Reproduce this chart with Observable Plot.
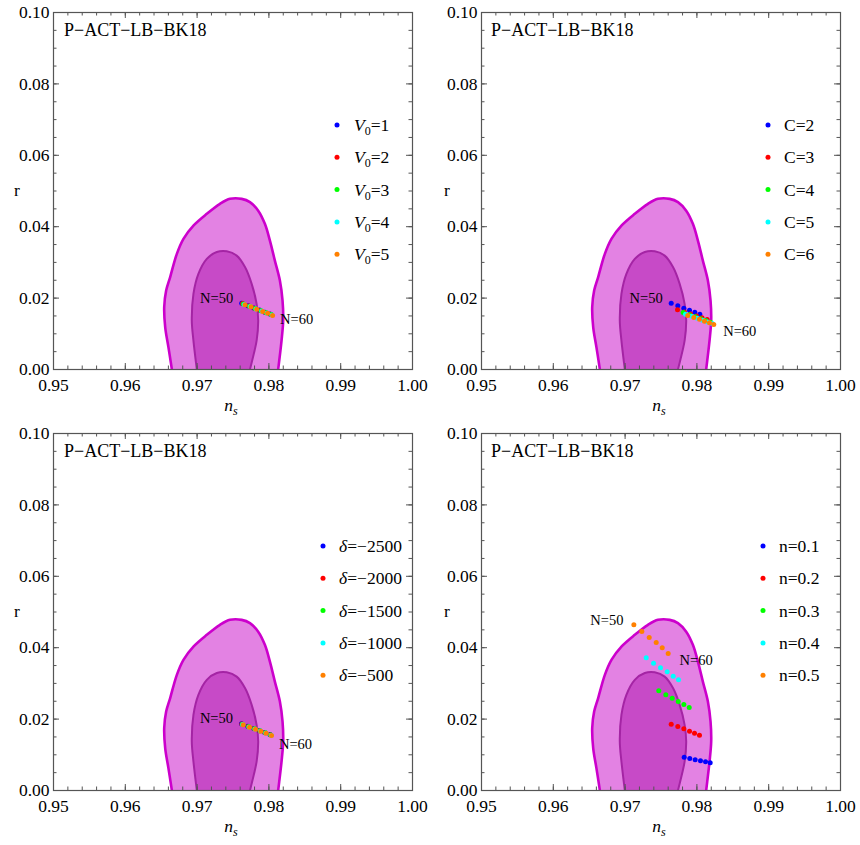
<!DOCTYPE html>
<html>
<head>
<meta charset="utf-8">
<script src="https://cdn.jsdelivr.net/npm/d3@7"></script>
<script src="https://cdn.jsdelivr.net/npm/@observablehq/plot@0.6"></script>
<style>
  body { margin: 0; background: #fff; }
  #grid { position: relative; width: 860px; height: 845px; }
  #grid svg { position: absolute; }
  #grid svg text { font-family: 'Liberation Serif', 'Times New Roman', serif !important; }
</style>
</head>
<body>
<div id="grid"></div>
<script>
// ---- axes ----
const xMajor = [0.95, 0.96, 0.97, 0.98, 0.99, 1.00];
const yMajor = [0.00, 0.02, 0.04, 0.06, 0.08, 0.10];
const xMinor = d3.range(0.952, 1.0, 0.002);
const yMinor = d3.range(0.005, 0.1, 0.005);

// ---- P-ACT-LB-BK18 confidence regions (68% inner, 95% outer) ----
const outerNs = [0.96672, 0.96649, 0.96601, 0.96556, 0.96542, 0.96569, 0.96625, 0.96718, 0.96810, 0.96949,
                 0.97135, 0.97319, 0.97458, 0.97621, 0.97736, 0.97851, 0.97944, 0.98014, 0.98083, 0.98153,
                 0.98190, 0.98199, 0.98176, 0.98129, 0.98112];
const outerR  = [-0.003, 0.0000, 0.0062, 0.0118, 0.0175, 0.0221, 0.0259, 0.0324, 0.0366, 0.0403,
                 0.0436, 0.0464, 0.0478, 0.0478, 0.0469, 0.0445, 0.0408, 0.0361, 0.0305, 0.0249,
                 0.0193, 0.0137, 0.0081, 0.0000, -0.003];
const innerNs = [0.97014, 0.96996, 0.96949, 0.96926, 0.96949, 0.97018, 0.97135, 0.97274, 0.97413, 0.97551,
                 0.97667, 0.97760, 0.97829, 0.97851, 0.97829, 0.97736, 0.97702];
const innerR  = [-0.003, 0.0000, 0.0081, 0.0137, 0.0212, 0.0268, 0.0310, 0.0329, 0.0331, 0.0319,
                 0.0287, 0.0240, 0.0184, 0.0137, 0.0081, 0.0000, -0.003];

// ---- e-folding numbers and series colours ----
const efolds = [50, 52, 54, 56, 58, 60];
const seriesColors = ["#0000ff", "#ff0000", "#00ff00", "#00ffff", "#ff8000"];

// ---- panel 1: V0 ----
const v0Values = [1, 2, 3, 4, 5];
const v0Ns = [
  [0.97621, 0.97708, 0.97790, 0.97870, 0.97944, 0.98015],
  [0.97633, 0.97719, 0.97800, 0.97880, 0.97953, 0.98024],
  [0.97644, 0.97730, 0.97810, 0.97890, 0.97962, 0.98033],
  [0.97656, 0.97740, 0.97820, 0.97901, 0.97972, 0.98042],
  [0.97667, 0.97750, 0.97829, 0.97913, 0.97982, 0.98051]
];
const v0R = [
  [0.01857, 0.01788, 0.01722, 0.01664, 0.01607, 0.01553],
  [0.01846, 0.01780, 0.01714, 0.01656, 0.01600, 0.01546],
  [0.01835, 0.01771, 0.01706, 0.01647, 0.01592, 0.01538],
  [0.01823, 0.01763, 0.01697, 0.01636, 0.01584, 0.01526],
  [0.01812, 0.01756, 0.01689, 0.01625, 0.01577, 0.01513]
];

// ---- panel 2: C ----
const cValues = [2, 3, 4, 5, 6];
const cNs = [
  [0.97642, 0.97734, 0.97818, 0.97897, 0.97971, 0.98041],
  [0.97730, 0.97825, 0.97912, 0.97995, 0.98071, 0.98143],
  [0.97809, 0.97896, 0.97976, 0.98053, 0.98123, 0.98189],
  [0.97841, 0.97926, 0.98005, 0.98080, 0.98149, 0.98213],
  [0.97873, 0.97957, 0.98036, 0.98106, 0.98175, 0.98235]
];
const cR = [
  [0.01857, 0.01784, 0.01717, 0.01661, 0.01605, 0.01549],
  [0.01673, 0.01612, 0.01556, 0.01500, 0.01449, 0.01400],
  [0.01597, 0.01534, 0.01478, 0.01423, 0.01372, 0.01325],
  [0.01549, 0.01489, 0.01434, 0.01382, 0.01334, 0.01289],
  [0.01513, 0.01457, 0.01409, 0.01353, 0.01308, 0.01261]
];

// ---- panel 3: delta ----
const deltaValues = [-2500, -2000, -1500, -1000, -500];
const deltaNs = [
  [0.97618, 0.97706, 0.97790, 0.97866, 0.97941, 0.98014],
  [0.97624, 0.97712, 0.97796, 0.97871, 0.97946, 0.98020],
  [0.97630, 0.97718, 0.97801, 0.97876, 0.97951, 0.98025],
  [0.97636, 0.97724, 0.97807, 0.97882, 0.97957, 0.98031],
  [0.97642, 0.97730, 0.97813, 0.97887, 0.97962, 0.98036]
];
const deltaR = [
  [0.01868, 0.01800, 0.01740, 0.01682, 0.01625, 0.01566],
  [0.01861, 0.01794, 0.01734, 0.01677, 0.01620, 0.01560],
  [0.01854, 0.01787, 0.01729, 0.01672, 0.01615, 0.01554],
  [0.01847, 0.01781, 0.01723, 0.01666, 0.01610, 0.01548],
  [0.01840, 0.01774, 0.01718, 0.01661, 0.01605, 0.01541]
];

// ---- panel 4: n ----
const nValues = [0.1, 0.2, 0.3, 0.4, 0.5];
const nNs = [
  [0.97823, 0.97901, 0.97976, 0.98050, 0.98120, 0.98185],
  [0.97642, 0.97734, 0.97818, 0.97897, 0.97967, 0.98036],
  [0.97469, 0.97567, 0.97656, 0.97740, 0.97818, 0.97893],
  [0.97294, 0.97396, 0.97493, 0.97586, 0.97670, 0.97744],
  [0.97122, 0.97233, 0.97336, 0.97433, 0.97517, 0.97600]
];
const nR = [
  [0.00933, 0.00896, 0.00860, 0.00832, 0.00804, 0.00776],
  [0.01857, 0.01793, 0.01728, 0.01661, 0.01605, 0.01549],
  [0.02793, 0.02681, 0.02586, 0.02493, 0.02409, 0.02325],
  [0.03717, 0.03566, 0.03437, 0.03325, 0.03202, 0.03101],
  [0.04641, 0.04454, 0.04286, 0.04146, 0.03997, 0.03838]
];

const FONT = "'Liberation Serif', 'Times New Roman', serif";
const W = 430, H = 422;
const M = {top: 12, right: 18, bottom: 53, left: 53};
const frameW = W - M.left - M.right, frameH = H - M.top - M.bottom;
const tickColor = "#555";

function makePanel(cfg) {
  const rows = [];
  cfg.ns.forEach((s, k) => s.forEach((x, i) => rows.push({k, ns: x, r: cfg.r[k][i], N: efolds[i]})));
  const outer = outerNs.map((x, i) => ({ns: x, r: outerR[i]}));
  const inner = innerNs.map((x, i) => ({ns: x, r: innerR[i]}));
  const first = rows.find(d => d.k === cfg.at50 && d.N === 50);
  const last = rows.find(d => d.k === cfg.at60 && d.N === 60);

  const svg = Plot.plot({
    width: W, height: H,
    marginTop: M.top, marginRight: M.right, marginBottom: M.bottom, marginLeft: M.left,
    style: {fontFamily: FONT, fontSize: "17.5px", color: "#000", background: "#fff", overflow: "visible"},
    x: {domain: [0.95, 1.0], ticks: xMajor, tickFormat: d3.format(".2f"), tickSize: 0, tickPadding: 9, label: null},
    y: {domain: [0, 0.1], ticks: yMajor, tickFormat: d3.format(".2f"), tickSize: 0, tickPadding: 4, label: null},
    marks: [
      Plot.line(outer, {x: "ns", y: "r", fill: "#e382e3", stroke: "#cc00cc", strokeWidth: 2.6, curve: "catmull-rom", clip: true}),
      Plot.line(inner, {x: "ns", y: "r", fill: "#c74ac7", stroke: "#a424a4", strokeWidth: 2, curve: "catmull-rom", clip: true}),
      // inward frame ticks on all four sides
      Plot.ruleX(xMajor, {x: d => d, insetTop: frameH - 6, stroke: tickColor}),
      Plot.ruleX(xMajor, {x: d => d, insetBottom: frameH - 6, stroke: tickColor}),
      Plot.ruleX(xMinor, {x: d => d, insetTop: frameH - 3.5, stroke: tickColor}),
      Plot.ruleX(xMinor, {x: d => d, insetBottom: frameH - 3.5, stroke: tickColor}),
      Plot.ruleY(yMajor, {y: d => d, insetRight: frameW - 6, stroke: tickColor}),
      Plot.ruleY(yMajor, {y: d => d, insetLeft: frameW - 6, stroke: tickColor}),
      Plot.ruleY(yMinor, {y: d => d, insetRight: frameW - 3.5, stroke: tickColor}),
      Plot.ruleY(yMinor, {y: d => d, insetLeft: frameW - 3.5, stroke: tickColor}),
      Plot.frame({stroke: tickColor, strokeWidth: 1.2}),
      Plot.dot(rows, {x: "ns", y: "r", r: 2.5, fill: d => seriesColors[d.k], stroke: "none"}),
      Plot.text([first], {x: "ns", y: "r", text: () => "N=50", dx: cfg.dx50, dy: cfg.dy50, fontSize: 14.5, fill: "#000"}),
      Plot.text([last], {x: "ns", y: "r", text: () => "N=60", dx: cfg.dx60, dy: cfg.dy60, fontSize: 14.5, fill: "#000"})
    ]
  });

  const root = d3.select(svg);
  const g = root.append("g").attr("font-family", FONT).attr("fill", "#000").attr("text-anchor", "start");

  // panel title
  g.append("text").attr("x", cfg.titleX).attr("y", 30).attr("dy", "0.35em")
    .attr("font-size", 18).text("P\u2212ACT\u2212LB\u2212BK18");

  // axis names
  g.append("text").attr("x", cfg.rX).attr("y", 190).attr("dy", "0.35em")
    .attr("text-anchor", "middle").attr("font-size", 17.5).text("r");
  const ax = g.append("text").attr("x", 231).attr("y", 405).attr("dy", "0.35em")
    .attr("text-anchor", "middle").attr("font-size", 17.5);
  ax.append("tspan").attr("font-style", "italic").text("n");
  ax.append("tspan").attr("font-style", "italic").attr("font-size", 12).attr("dy", 4).text("s");

  // legend
  cfg.labels.forEach((segs, i) => {
    const y = 125 + i * 32.3;
    g.append("circle").attr("cx", cfg.legDot).attr("cy", y).attr("r", 2.5).attr("fill", seriesColors[i]);
    const t = g.append("text").attr("x", cfg.legText).attr("y", y).attr("dy", "0.35em").attr("font-size", 17.5);
    let shifted = false;
    segs.forEach(seg => {
      const ts = t.append("tspan").text(seg.t);
      if (seg.i) ts.attr("font-style", "italic");
      if (seg.sub) { ts.attr("font-size", 12).attr("dy", 4); shifted = true; }
      else if (shifted) { ts.attr("dy", -4); shifted = false; }
    });
  });

  svg.style.left = cfg.left + "px";
  svg.style.top = cfg.top + "px";
  document.getElementById("grid").appendChild(svg);
}

const minus = v => (v < 0 ? "\u2212" + Math.abs(v) : String(v));

makePanel({
  left: 0, top: 0, ns: v0Ns, r: v0R, at50: 0, at60: 4,
  dx50: -25, dy50: -5, dx60: 24, dy60: 4,
  titleX: 64, rX: 17, legDot: 337, legText: 354,
  labels: v0Values.map(v => [{t: "V", i: true}, {t: "0", sub: true}, {t: "=" + v}])
});
makePanel({
  left: 428, top: 0, ns: cNs, r: cR, at50: 0, at60: 4,
  dx50: -25, dy50: -5, dx60: 26, dy60: 7,
  titleX: 63, rX: 19, legDot: 340, legText: 356,
  labels: cValues.map(v => [{t: "C=" + v}])
});
makePanel({
  left: 0, top: 421, ns: deltaNs, r: deltaR, at50: 0, at60: 4,
  dx50: -25, dy50: -5, dx60: 24, dy60: 9,
  titleX: 64, rX: 17, legDot: 323, legText: 339,
  labels: deltaValues.map(v => [{t: "\u03b4", i: true}, {t: "=" + minus(v)}])
});
makePanel({
  left: 428, top: 421, ns: nNs, r: nR, at50: 4, at60: 4,
  dx50: -27, dy50: -4, dx60: 28, dy60: 7,
  titleX: 63, rX: 19, legDot: 335, legText: 351,
  labels: nValues.map(v => [{t: "n=" + v}])
});
</script>
</body>
</html>
